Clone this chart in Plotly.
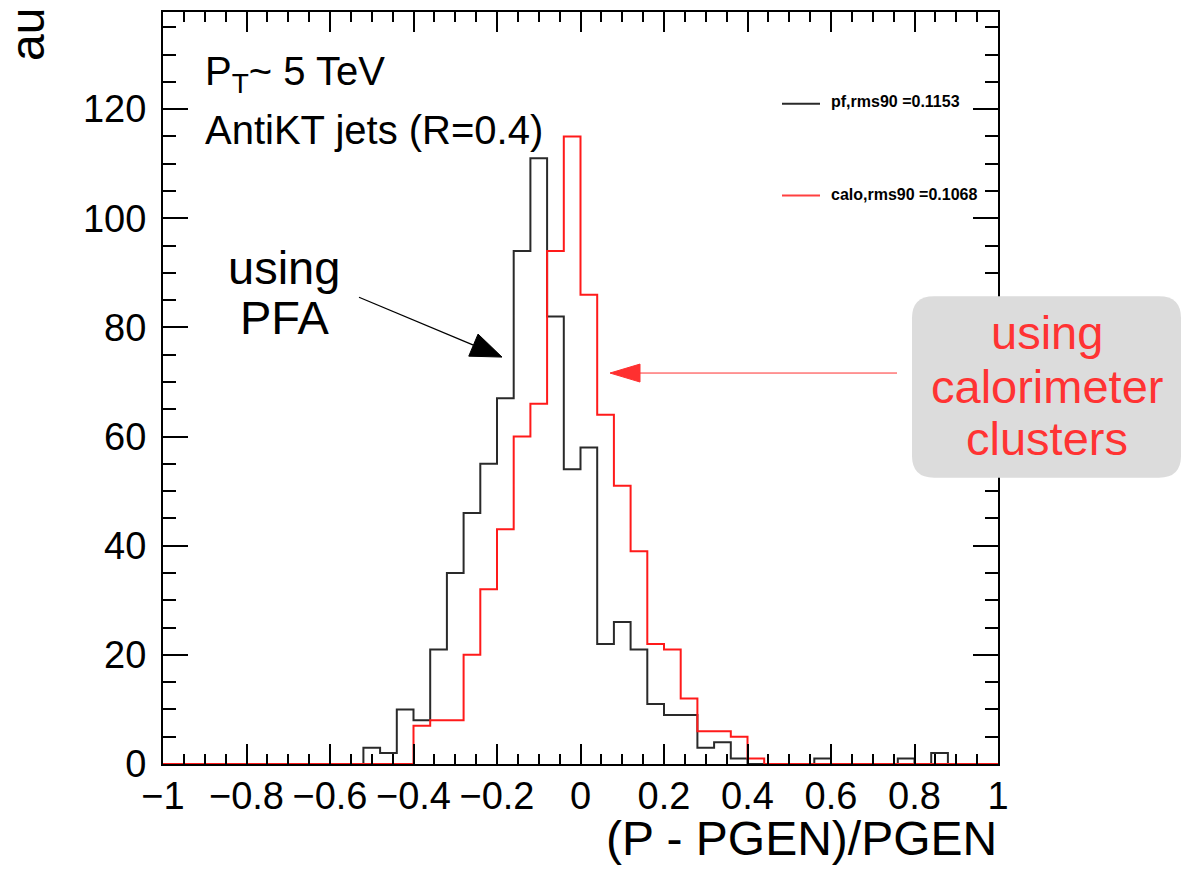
import numpy as np
import plotly.graph_objects as go

# ---------------- data ----------------
bin_edges = np.round(np.linspace(-1.0, 1.0, 51), 2)  # 50 bins of width 0.04

pf_counts = [0, 0, 0, 0, 0, 0, 0, 0, 0, 0,
             0, 0, 3, 2, 10, 8, 21, 35, 46, 55,
             67, 94, 111, 82, 54, 58, 22, 26, 21, 11,
             9, 9, 3, 4, 1, 0, 0, 0, 0, 1,
             0, 0, 0, 0, 1, 0, 2, 0, 0, 0]

calo_counts = [0, 0, 0, 0, 0, 0, 0, 0, 0, 0,
               0, 0, 0, 0, 0, 7, 8, 8, 20, 32,
               43, 60, 66, 94, 115, 86, 64, 51, 39, 22,
               21, 12, 6, 6, 5, 1, 0, 0, 0, 0,
               0, 0, 0, 0, 0, 0, 0, 0, 0, 0]

pf_label = "pf,rms90 =0.1153"
calo_label = "calo,rms90 =0.1068"
x_ticks = [-1, -0.8, -0.6, -0.4, -0.2, 0, 0.2, 0.4, 0.6, 0.8, 1]
y_ticks = [0, 20, 40, 60, 80, 100, 120]

# ---------------- layout helpers (pixel -> paper) ----------------
L, R, T, B = 163, 998, 10, 764
W, H = 1182, 869


def px(x):
    return (x - L) / (R - L)


def py(y):
    return (B - y) / (B - T)


FONT = "Liberation Sans, Arial, Helvetica, sans-serif"

fig = go.Figure()
fig.add_trace(go.Scatter(x=bin_edges, y=pf_counts + [pf_counts[-1]], mode="lines",
                         line=dict(shape="hv", color="#2a2a2a", width=2),
                         name=pf_label, showlegend=False, hoverinfo="skip"))
fig.add_trace(go.Scatter(x=bin_edges, y=calo_counts + [calo_counts[-1]], mode="lines",
                         line=dict(shape="hv", color="#ff1a1a", width=2),
                         name=calo_label, showlegend=False, hoverinfo="skip"))

axis_common = dict(showgrid=False, zeroline=False, showline=True, linecolor="black",
                   linewidth=2, mirror="allticks", ticks="inside", tickcolor="black",
                   tickwidth=1.5, tickfont=dict(family=FONT, size=38, color="black"))

fig.update_xaxes(range=[-1, 1], tickvals=x_ticks, ticklen=20,
                 minor=dict(dtick=0.05, tick0=0, ticks="inside", ticklen=10,
                            tickcolor="black", tickwidth=1.5),
                 ticklabelstandoff=-3, **axis_common)
fig.update_yaxes(range=[0, (B - T) / 5.472], tickvals=y_ticks, ticklen=25,
                 minor=dict(dtick=5, tick0=0, ticks="inside", ticklen=13,
                            tickcolor="black", tickwidth=1.5),
                 ticklabelstandoff=7, **axis_common)

shapes = []
# gray rounded box (extends past the frame)
bx0, bx1, by0, by1, rr = 912, 1181, 295, 477, 22
path = (f"M {px(bx0 + rr)} {py(by0)} L {px(bx1 - rr)} {py(by0)} "
        f"Q {px(bx1)} {py(by0)} {px(bx1)} {py(by0 + rr)} "
        f"L {px(bx1)} {py(by1 - rr)} Q {px(bx1)} {py(by1)} {px(bx1 - rr)} {py(by1)} "
        f"L {px(bx0 + rr)} {py(by1)} Q {px(bx0)} {py(by1)} {px(bx0)} {py(by1 - rr)} "
        f"L {px(bx0)} {py(by0 + rr)} Q {px(bx0)} {py(by0)} {px(bx0 + rr)} {py(by0)} Z")
shapes.append(dict(type="path", xref="paper", yref="paper", path=path,
                   fillcolor="#dcdcdc", line=dict(width=0), layer="above"))

# legend line samples
shapes.append(dict(type="line", xref="paper", yref="paper", x0=px(782), x1=px(820),
                   y0=py(102), y1=py(102), line=dict(color="#2a2a2a", width=2)))
shapes.append(dict(type="line", xref="paper", yref="paper", x0=px(782), x1=px(820),
                   y0=py(194), y1=py(194), line=dict(color="#ff4040", width=2)))


def arrow(x0, y0, x1, y1, color, lw, hl, hw):
    v = np.array([x1 - x0, y1 - y0], dtype=float)
    u = v / np.hypot(*v)
    n = np.array([-u[1], u[0]])
    base = np.array([x1, y1]) - u * hl
    shapes.append(dict(type="line", xref="paper", yref="paper",
                       x0=px(x0), y0=py(y0), x1=px(base[0]), y1=py(base[1]),
                       line=dict(color=color, width=lw)))
    p1 = base + n * hw
    p2 = base - n * hw
    shapes.append(dict(type="path", xref="paper", yref="paper",
                       path=(f"M {px(x1)} {py(y1)} L {px(p1[0])} {py(p1[1])} "
                             f"L {px(p2[0])} {py(p2[1])} Z"),
                       fillcolor=color, line=dict(color=color, width=1)))


arrow(359, 296, 502, 356, "black", 1.3, 31, 12)
arrow(897, 372, 610, 372, "#ff3030", 1.0, 30, 9)

annotations = []


def text(s, x, y, size, color="black", xanchor="left", bold=False, angle=0):
    if bold:
        s = f"<b>{s}</b>"
    annotations.append(dict(text=s, x=px(x), y=py(y), xref="paper", yref="paper",
                            xanchor=xanchor, yanchor="middle", showarrow=False,
                            textangle=angle,
                            font=dict(family=FONT, size=size, color=color)))


text("P<sub>T</sub>~ 5 TeV", 203, 72, 40)
text("AntiKT jets (R=0.4)", 203, 128, 40)
text("using", 284, 266, 47, xanchor="center")
text("PFA", 284, 316, 47, xanchor="center")
text("using", 1047, 331, 47, color="#ff3333", xanchor="center")
text("calorimeter", 1047, 385, 47, color="#ff3333", xanchor="center")
text("clusters", 1047, 438, 47, color="#ff3333", xanchor="center")
text(pf_label, 829, 100, 16, bold=True)
text(calo_label, 829, 193, 16, bold=True)
text("au", 28, 33, 48, angle=-90, xanchor="center")
annotations.append(dict(text="(P - PGEN)/PGEN", x=px(999), y=py(839), xref="paper",
                        yref="paper", xanchor="right", yanchor="middle", showarrow=False,
                        font=dict(family=FONT, size=48, color="black")))

fig.update_layout(width=W, height=H, margin=dict(l=L, r=W - R, t=T, b=H - B),
                  plot_bgcolor="white", paper_bgcolor="white",
                  shapes=shapes, annotations=annotations, showlegend=False)

fig.write_html("out.html")
